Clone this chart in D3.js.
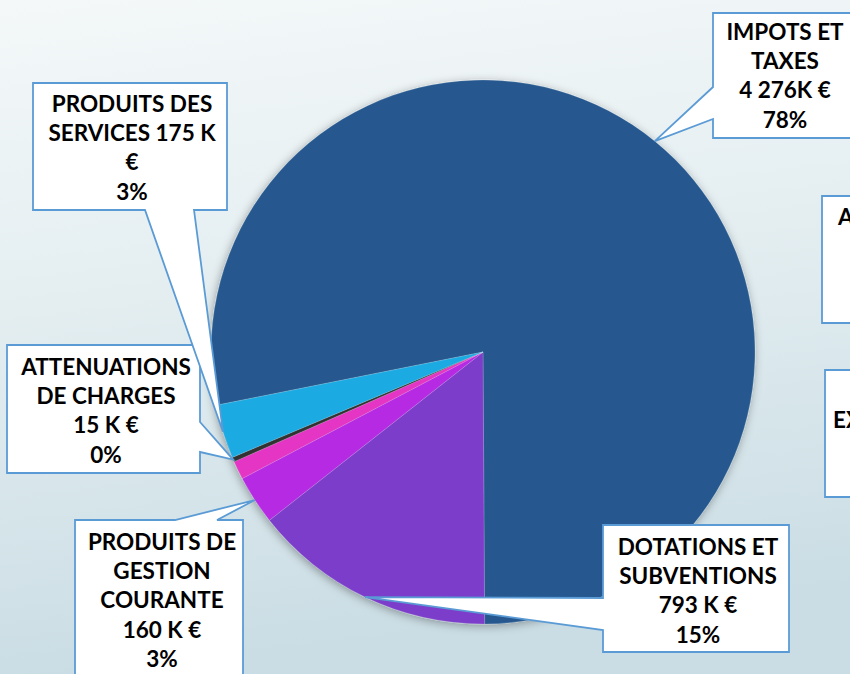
<!DOCTYPE html>
<html><head><meta charset="utf-8">
<script src="https://cdn.jsdelivr.net/npm/d3@7/dist/d3.min.js"></script>
<style>html,body{margin:0;padding:0;overflow:hidden}svg{display:block}</style>
</head><body>
<script>
// ---- data ----
const categories = ["IMPOTS ET TAXES","DOTATIONS ET SUBVENTIONS","PRODUITS DE GESTION COURANTE","PRODUITS EXCEPTIONNELS","ATTENUATIONS DE CHARGES","PRODUITS DES SERVICES","AUTRES PRODUITS FINANCIERS"];
const values = [4276, 793, 160, 60, 15, 175, 0];
const colors = ["#26598F","#7D3ECB","#B62AE3","#E535C5","#333333","#1FAAE2","#9BBB59"];
const labelLines = [
  ["IMPOTS ET","TAXES","4 276K €","78%"],
  ["DOTATIONS ET","SUBVENTIONS","793 K €","15%"],
  ["PRODUITS DE","GESTION","COURANTE","160 K €","3%"],
  ["PRODUITS","EXCEPTIONNELS","60 K €","1%"],
  ["ATTENUATIONS","DE CHARGES","15 K €","0%"],
  ["PRODUITS DES","SERVICES 175 K","€","3%"],
  ["AUTRES PRODUITS","FINANCIERS","0 K €","0%"]
];

// ---- layout ----
const W = 850, H = 674;
const cx = 483, cy = 352, R = 272;
const startDeg = 258.7;
const boxes = [
  {x:713,y:13,w:145,h:125,edge:"left",b0:74,b1:106,tx:785,ty:40},
  {x:603,y:525,w:186,h:127,edge:"left",b0:73,b1:105,tx:698,ty:555},
  {x:75,y:520,w:168,h:200,edge:"top",b0:100,b1:142,tx:162,ty:550},
  {x:825,y:370,w:220,h:127,edge:null,leftLine:1,lx:833,ty:399},
  {x:7,y:345,w:193,h:128,edge:"right",b0:77,b1:107,tx:106,ty:375},
  {x:33,y:83,w:194,h:127,edge:"bottom",b0:112,b1:161,tx:132,ty:112},
  {x:822,y:196,w:230,h:127,edge:null,leftLine:0,lx:838,ty:225}
];
const lineH = 29.2;

const svg = d3.select("body").append("svg").attr("width",W).attr("height",H);
const defs = svg.append("defs");
const bg = defs.append("linearGradient").attr("id","bg").attr("x1",0).attr("y1",0).attr("x2",0.15).attr("y2",1);
bg.append("stop").attr("offset",0).attr("stop-color","#F4F8F9");
bg.append("stop").attr("offset",0.45).attr("stop-color","#E4EEF1");
bg.append("stop").attr("offset",1).attr("stop-color","#CADDE4");
const sh = defs.append("filter").attr("id","sh").attr("x",-0.2).attr("y",-0.2).attr("width",1.4).attr("height",1.4);
sh.append("feDropShadow").attr("dx",-1).attr("dy",2).attr("stdDeviation",5).attr("flood-color","#000").attr("flood-opacity",0.35);

svg.append("rect").attr("width",W).attr("height",H).attr("fill","url(#bg)");

const rad = d => d*Math.PI/180;
const pie = d3.pie().sort(null).value(d=>d.v).startAngle(rad(startDeg)).endAngle(rad(startDeg+360));
const data = categories.map((c,i)=>({c, v:values[i], i}));
const arcs = pie(data);
const arc = d3.arc().innerRadius(0).outerRadius(R);

const g = svg.append("g").attr("transform",`translate(${cx},${cy})`);
g.append("g").attr("filter","url(#sh)").selectAll("path").data(arcs.filter(a=>a.data.v>0)).join("path")
  .attr("d",arc).attr("fill",d=>colors[d.data.i])
  .attr("stroke","rgba(255,255,255,0.25)").attr("stroke-width",0.6);

// callouts
const lab = svg.append("g");
arcs.forEach((a,i)=>{
  const b = boxes[i];
  const mid = (a.startAngle+a.endAngle)/2;
  const tip = [cx + R*Math.sin(mid), cy - R*Math.cos(mid)];
  const {x,y,w,h} = b;
  let pts;
  if (b.edge==="left") pts=[[x,y],[x+w,y],[x+w,y+h],[x,y+h],[x,y+b.b1],tip,[x,y+b.b0]];
  else if (b.edge==="right") pts=[[x,y],[x+w,y],[x+w,y+b.b0],tip,[x+w,y+b.b1],[x+w,y+h],[x,y+h]];
  else if (b.edge==="top") pts=[[x,y],[x+b.b0,y],tip,[x+b.b1,y],[x+w,y],[x+w,y+h],[x,y+h]];
  else if (b.edge==="bottom") pts=[[x,y],[x+w,y],[x+w,y+h],[x+b.b1,y+h],tip,[x+b.b0,y+h],[x,y+h]];
  else pts=[[x,y],[x+w,y],[x+w,y+h],[x,y+h]];
  lab.append("path").attr("d","M"+pts.map(p=>p.join(",")).join("L")+"Z")
    .attr("fill","#fff").attr("stroke","#5B9BD5").attr("stroke-width",1.8).attr("stroke-linejoin","miter");
  const t = lab.append("text").attr("font-family","Lato, 'DejaVu Sans', sans-serif").attr("font-weight",700)
    .attr("font-size",22.5).attr("fill","#000").attr("text-anchor","middle");
  const lines = labelLines[i];
  const tsp = lines.map((L,k)=>t.append("tspan").attr("y",b.ty+k*lineH).text(L));
  if (b.edge===null) {
    const wRef = tsp[b.leftLine].node().getComputedTextLength();
    const c = b.lx + wRef/2;
    tsp.forEach(s=>s.attr("x",c));
  } else {
    tsp.forEach(s=>s.attr("x",b.tx));
  }
});
</script>
</body></html>
